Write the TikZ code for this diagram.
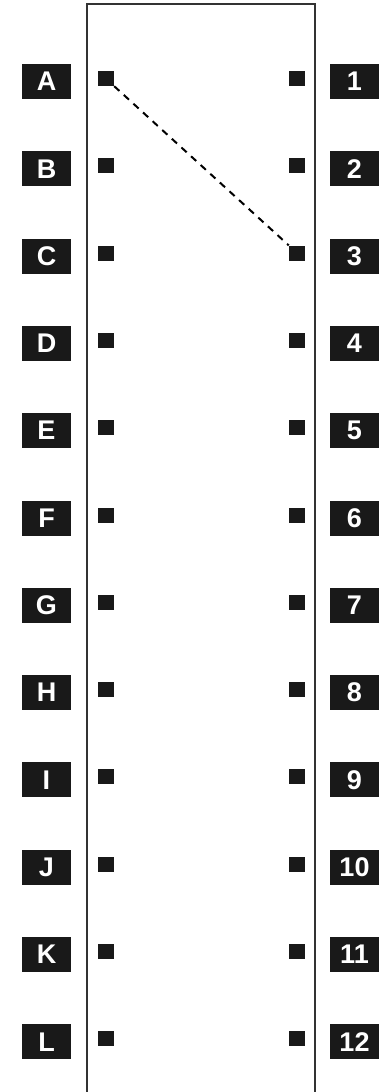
\documentclass[tikz,border=0pt]{standalone}
\usepackage{fontspec}
\setmainfont{Liberation Sans}
\begin{document}
\begin{tikzpicture}[x=1pt,y=-1pt,
  lab/.style={fill=black!90,text=white,minimum width=49pt,minimum height=35pt,inner sep=0pt,font=\fontsize{27}{27}\selectfont\bfseries},
  pin/.style={fill=black!90,minimum width=16pt,minimum height=15pt,inner sep=0pt},
  wire/.style={line width=2pt,dash pattern=on 7pt off 6pt}]
\useasboundingbox (0,0) rectangle (391,1092);
\draw[line width=2pt,draw=black!80] (87,1094) -- (87,4) -- (315,4) -- (315,1094);
\foreach \l [count=\i from 0] in {A,B,C,D,E,F,G,H,I,J,K,L}{
  \node[lab] (l\l) at (46.5,{81.5+87.3*\i}) {\l};
}
\foreach \n [count=\i from 0] in {1,...,12}{
  \node[lab] (r\n) at (354.5,{81.5+87.3*\i}) {\n};
}
\foreach \l [count=\i from 0] in {A,B,C,D,E,F,G,H,I,J,K,L}{
  \node[pin] (p\l) at (106,{78.5+87.3*\i}) {};
}
\foreach \n [count=\i from 0] in {1,...,12}{
  \node[pin] (q\n) at (297,{78.5+87.3*\i}) {};
}
\draw[wire] (pA.south east) -- (q3.north west);
\end{tikzpicture}
\end{document}
